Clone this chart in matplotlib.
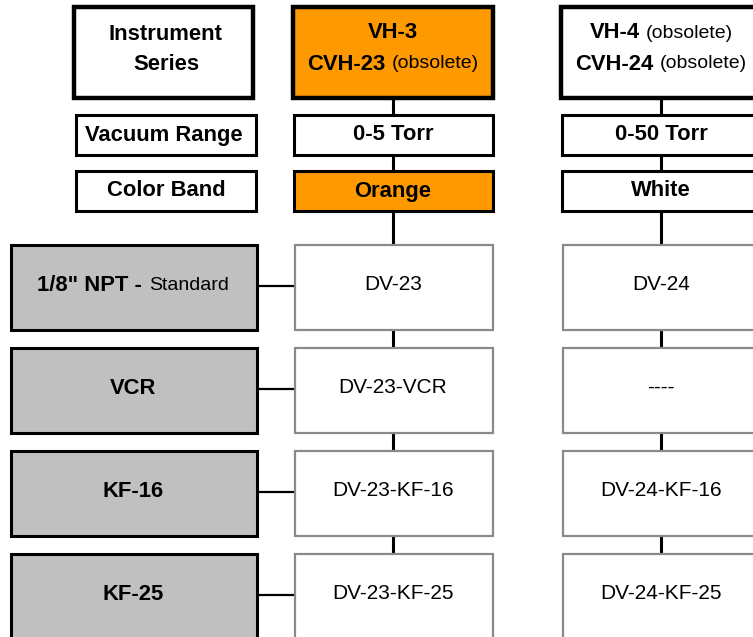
import matplotlib
matplotlib.use("Agg")
import matplotlib.pyplot as plt
from matplotlib.patches import Rectangle

plt.rcParams["font.family"] = ["Liberation Sans", "DejaVu Sans"]

# ── Data ────────────────────────────────────────────────────────────────
row_labels = [["Instrument", "Series"], ["Vacuum Range"], ["Color Band"]]
series_main = [["VH-3", "CVH-23"], ["VH-4", "CVH-24"]]
series_note = [["", "(obsolete)"], ["(obsolete)", "(obsolete)"]]
vacuum_ranges = ["0-5 Torr", "0-50 Torr"]
color_bands = ["Orange", "White"]
band_fill = ["#FF9900", "white"]
fittings = [("1/8\" NPT -", "Standard"), ("VCR", ""), ("KF-16", ""), ("KF-25", "")]
parts = [
    ["DV-23", "DV-23-VCR", "DV-23-KF-16", "DV-23-KF-25"],
    ["DV-24", "----", "DV-24-KF-16", "DV-24-KF-25"],
]

# ── Layout (pixels) ─────────────────────────────────────────────────────
W, H = 753, 637
col_x = [293, 561]          # left edge of instrument columns
col_w = 200
head_y, head_h = 7, 91
range_y, range_h = 115, 40
band_y, band_h = 171, 40
fit_y0, fit_h, fit_pitch = 245, 85, 103
fit_x, fit_w = 11, 246
BOLD, NOTE, PART = 15.8, 14, 15

fig = plt.figure(figsize=(W / 100, H / 100), dpi=100)
ax = fig.add_axes([0, 0, 1, 1])
ax.set_xlim(0, W)
ax.set_ylim(H, 0)
ax.axis("off")
renderer = fig.canvas.get_renderer()


def box(x, y, w, h, fc="white", ec="black", lw=2.0, z=2):
    ax.add_patch(Rectangle((x, y), w, h, facecolor=fc, edgecolor=ec, linewidth=lw, zorder=z))


def vline(x, y0, y1, lw=2.2):
    ax.plot([x, x], [y0, y1], color="black", linewidth=lw, solid_capstyle="butt", zorder=1)


def two_part(cx, cy, bold, normal, bsize=BOLD, nsize=NOTE, gap=6):
    """Centered text with a bold part followed by a regular part."""
    if not normal:
        ax.text(cx, cy, bold, ha="center", va="center", fontsize=bsize, fontweight="bold")
        return
    if not bold:
        ax.text(cx, cy, normal, ha="center", va="center", fontsize=nsize)
        return
    t1 = ax.text(0, cy, bold, ha="left", va="center", fontsize=bsize, fontweight="bold")
    t2 = ax.text(0, cy, normal, ha="left", va="center", fontsize=nsize)
    w1 = t1.get_window_extent(renderer).width
    w2 = t2.get_window_extent(renderer).width
    x0 = cx - (w1 + gap + w2) / 2
    t1.set_x(x0)
    t2.set_x(x0 + w1 + gap)


# left label column
box(74, head_y, 179, head_h, lw=3.2)
for j, line in enumerate(row_labels[0]):
    ax.text(166, head_y + 27 + j * 31, line, ha="center", va="center",
            fontsize=BOLD, fontweight="bold")
box(76, range_y, 180, range_h, lw=2.2)
ax.text(164, range_y + range_h / 2, row_labels[1][0], ha="center", va="center",
        fontsize=BOLD, fontweight="bold")
box(76, band_y, 180, band_h, lw=2.2)
ax.text(166, band_y + band_h / 2, row_labels[2][0], ha="center", va="center",
        fontsize=BOLD, fontweight="bold")

# instrument columns
for i, x in enumerate(col_x):
    cx = x + col_w / 2
    box(x, head_y, col_w, head_h, fc=band_fill[i], lw=3.2)
    two_part(cx, head_y + 26, series_main[i][0], series_note[i][0])
    two_part(cx, head_y + 57, series_main[i][1], series_note[i][1])
    box(x + 1, range_y, col_w - 1, range_h, lw=2.2)
    ax.text(cx, range_y + range_h / 2, vacuum_ranges[i], ha="center", va="center",
            fontsize=BOLD, fontweight="bold")
    box(x + 1, band_y, col_w - 1, band_h, fc=band_fill[i], lw=2.2)
    ax.text(cx, band_y + band_h / 2, color_bands[i], ha="center", va="center",
            fontsize=BOLD, fontweight="bold")
    vline(cx, head_y + head_h, range_y)
    vline(cx, range_y + range_h, band_y)
    vline(cx, band_y + band_h, fit_y0)
    for k, name in enumerate(parts[i]):
        y = fit_y0 + k * fit_pitch
        box(x + 2, y, col_w - 2, fit_h, ec="#8a8a8a", lw=1.6)
        ax.text(cx, y + fit_h / 2 - 3, name, ha="center", va="center", fontsize=PART)
        if k < len(parts[i]) - 1:
            vline(cx, y + fit_h, y + fit_pitch)

# fitting rows
for k, (b, n) in enumerate(fittings):
    y = fit_y0 + k * fit_pitch
    box(fit_x, y, fit_w, fit_h, fc="#C0C0C0", lw=2.2)
    two_part(fit_x + fit_w / 2 - 1, y + fit_h / 2 - 2, b, n, nsize=14, gap=7)
    ax.plot([fit_x + fit_w, col_x[0] + 2], [y + fit_h / 2 - 2] * 2, color="black",
            linewidth=1.6, zorder=1)

fig.savefig("out.png", dpi=100)
